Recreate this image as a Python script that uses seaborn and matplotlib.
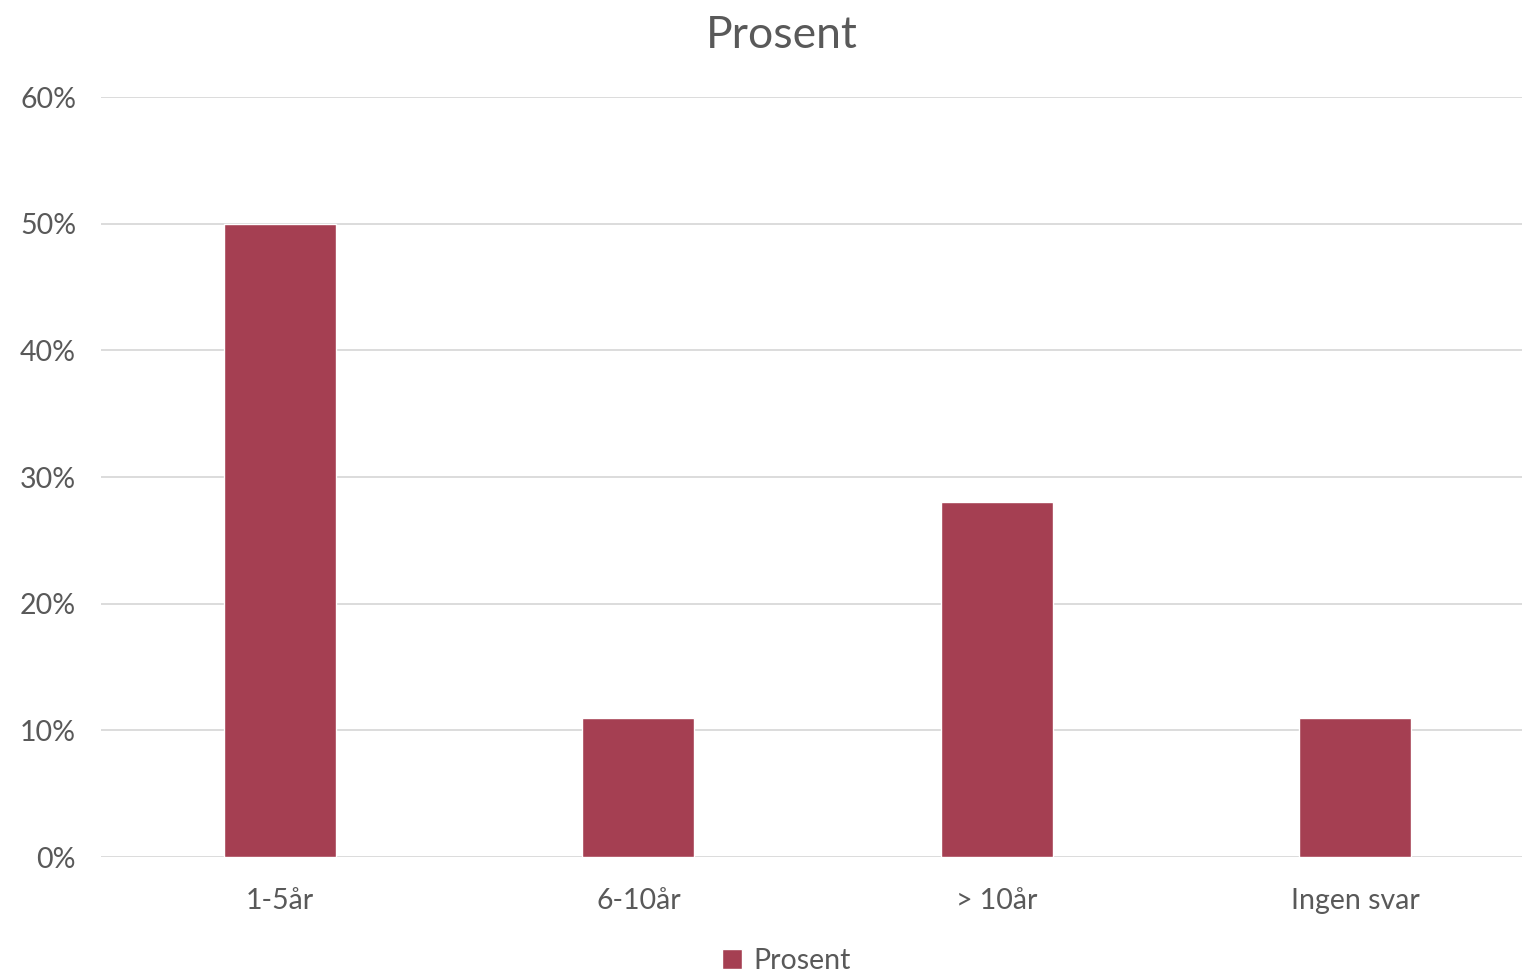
import pandas as pd
import seaborn as sns
import matplotlib.pyplot as plt
from matplotlib.ticker import PercentFormatter

# Chart data
categories = ['1-5år', '6-10år', '> 10år', 'Ingen svar']
prosent = [0.50, 0.11, 0.28, 0.11]
y_ticks = [0, 0.1, 0.2, 0.3, 0.4, 0.5, 0.6]

df = pd.DataFrame({'Kategori': categories, 'Prosent': prosent})

sns.set_theme(style='white')
plt.rcParams['font.family'] = ['Lato', 'DejaVu Sans']

text_col = '#595959'
bar_col = '#A53F52'

fig = plt.figure(figsize=(15.22, 9.75), dpi=100)
# axes runs slightly past the right edge, like the source
ax = fig.add_axes([0.0664, 0.121, 0.9415, 0.7795])

sns.barplot(data=df, x='Kategori', y='Prosent', color=bar_col, width=0.3126,
            saturation=1, ax=ax, label='Prosent', zorder=3)

ax.set_ylim(0, 0.6)
ax.set_xlim(-0.5, 3.5)
ax.set_yticks(y_ticks)
ax.yaxis.set_major_formatter(PercentFormatter(1.0, decimals=0))
ax.grid(axis='y', color='#D9D9D9', linewidth=1.3, zorder=0)
ax.set_axisbelow(True)
for s in ax.spines.values():
    s.set_visible(False)
ax.tick_params(axis='both', length=0, labelsize=20.5, colors=text_col)
ax.tick_params(axis='x', pad=22)
ax.tick_params(axis='y', pad=18)
ax.set_xlabel('')
ax.set_ylabel('')

fig.suptitle('Prosent', x=0.514, y=0.985, fontsize=32, color=text_col, va='top')

ax.legend(loc='center', bbox_to_anchor=(0.478, -0.137), frameon=False,
          fontsize=20.5, labelcolor=text_col, handlelength=0.7, handleheight=0.7,
          handletextpad=0.4, borderaxespad=0, borderpad=0)

fig.savefig('out.png', dpi=100)
